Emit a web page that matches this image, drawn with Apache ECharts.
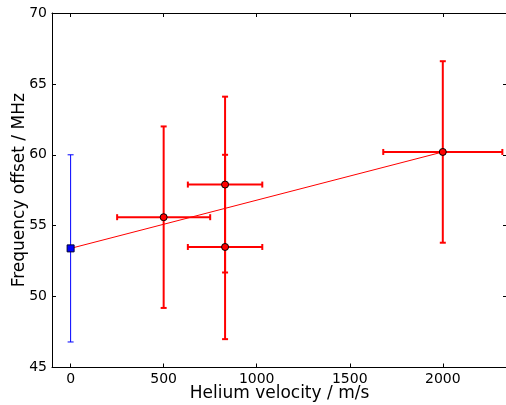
<!DOCTYPE html>
<html>
<head>
<meta charset="utf-8">
<script src="https://cdn.jsdelivr.net/npm/echarts@6/dist/echarts.min.js"></script>
<style>
html,body{margin:0;padding:0;background:#fff;}
#c{width:506px;height:405px;}
</style>
</head>
<body>
<div id="c"></div>
<script>
// Data
const xTicks = [0, 500, 1000, 1500, 2000];
const yTicks = [45, 50, 55, 60, 65, 70];

const blueX = [0];
const blueY = [53.4];
const blueYErr = [6.6];

const redX = [500, 830, 830, 2000];
const redY = [55.6, 57.9, 53.5, 60.2];
const redXErr = [250, 200, 200, 320];
const redYErr = [6.4, 6.2, 6.5, 6.4];

const fitX = [0, 2000];
const fitY = [53.4, 60.2];

const chart = echarts.init(document.getElementById('c'), null, {renderer: 'canvas'});
const FONT = 'DejaVu Sans';

function errRender(color, lw, cap) {
  return function (params, api) {
    const x = api.value(0), y = api.value(1), xe = api.value(2), ye = api.value(3);
    const style = {stroke: color, lineWidth: lw, fill: null};
    const children = [];
    if (ye > 0) {
      const top = api.coord([x, y + ye]);
      const bot = api.coord([x, y - ye]);
      children.push({type: 'line', shape: {x1: top[0], y1: top[1], x2: bot[0], y2: bot[1]}, style: style});
      children.push({type: 'line', shape: {x1: top[0] - cap, y1: top[1], x2: top[0] + cap, y2: top[1]}, style: style});
      children.push({type: 'line', shape: {x1: bot[0] - cap, y1: bot[1], x2: bot[0] + cap, y2: bot[1]}, style: style});
    }
    if (xe > 0) {
      const l = api.coord([x - xe, y]);
      const r = api.coord([x + xe, y]);
      children.push({type: 'line', shape: {x1: l[0], y1: l[1], x2: r[0], y2: r[1]}, style: style});
      children.push({type: 'line', shape: {x1: l[0], y1: l[1] - cap, x2: l[0], y2: l[1] + cap}, style: style});
      children.push({type: 'line', shape: {x1: r[0], y1: r[1] - cap, x2: r[0], y2: r[1] + cap}, style: style});
    }
    return {type: 'group', children: children};
  };
}

const redErrData = redX.map((x, i) => [x, redY[i], redXErr[i], redYErr[i]]);
const blueErrData = blueX.map((x, i) => [x, blueY[i], 0, blueYErr[i]]);

const axisCommonLine = {show: true, onZero: false, lineStyle: {color: '#000', width: 1}};
const plain = v => String(v);

chart.setOption({
  animation: false,
  backgroundColor: '#fff',
  grid: {left: 52, right: -1, top: 13, bottom: 37.5, containLabel: false, outerBoundsMode: 'none'},
  xAxis: [{
    type: 'value', min: -100, max: 2345, position: 'bottom',
    splitLine: {show: false},
    axisLine: axisCommonLine,
    axisTick: {show: true, inside: true, length: 4, customValues: xTicks, lineStyle: {color: '#000'}},
    axisLabel: {show: true, customValues: xTicks, formatter: plain, color: '#000', fontFamily: FONT, fontSize: 14, margin: 5},
    name: 'Helium velocity / m/s', nameLocation: 'middle', nameGap: 18, nameMoveOverlap: false,
    nameTextStyle: {color: '#000', fontFamily: FONT, fontSize: 17}
  }, {
    type: 'value', min: -100, max: 2345, position: 'top',
    splitLine: {show: false},
    axisLine: axisCommonLine,
    axisTick: {show: true, inside: true, length: 4, customValues: xTicks, lineStyle: {color: '#000'}},
    axisLabel: {show: false}
  }],
  yAxis: [{
    type: 'value', min: 45, max: 70, interval: 5, position: 'left',
    splitLine: {show: false},
    axisLine: axisCommonLine,
    axisTick: {show: true, inside: true, length: 4, lineStyle: {color: '#000'}},
    axisLabel: {color: '#000', formatter: plain, fontFamily: FONT, fontSize: 14, margin: 5},
    name: 'Frequency offset / MHz', nameLocation: 'middle', nameGap: 24, nameMoveOverlap: false,
    nameTextStyle: {color: '#000', fontFamily: FONT, fontSize: 17}
  }, {
    type: 'value', min: 45, max: 70, interval: 5, position: 'right',
    splitLine: {show: false},
    axisLine: axisCommonLine,
    axisTick: {show: true, inside: true, length: 4, lineStyle: {color: '#000'}},
    axisLabel: {show: false}
  }],
  series: [
    {
      type: 'custom', name: 'blueErr', xAxisIndex: 0, yAxisIndex: 0,
      renderItem: errRender('#0000ff', 1, 3), data: blueErrData, z: 2, silent: true
    },
    {
      type: 'custom', name: 'redErr', xAxisIndex: 0, yAxisIndex: 0,
      renderItem: errRender('#ff0000', 2, 3), data: redErrData, z: 2, silent: true
    },
    {
      type: 'line', name: 'fit', xAxisIndex: 0, yAxisIndex: 0,
      data: fitX.map((x, i) => [x, fitY[i]]), symbol: 'none',
      lineStyle: {color: '#ff0000', width: 1}, z: 3, silent: true
    },
    {
      type: 'scatter', name: 'blue', xAxisIndex: 0, yAxisIndex: 0,
      data: blueX.map((x, i) => [x, blueY[i]]), symbol: 'rect', symbolSize: 7,
      itemStyle: {color: '#0000ff', borderColor: '#000033', borderWidth: 1, opacity: 1}, z: 4
    },
    {
      type: 'scatter', name: 'red', xAxisIndex: 0, yAxisIndex: 0,
      data: redX.map((x, i) => [x, redY[i]]), symbol: 'circle', symbolSize: 7,
      itemStyle: {color: '#ff0000', borderColor: '#000000', borderWidth: 1, opacity: 1}, z: 4
    }
  ]
});
</script>
</body>
</html>
